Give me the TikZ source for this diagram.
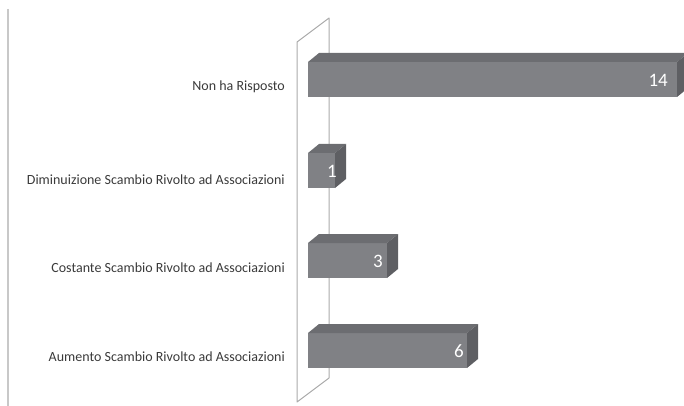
\documentclass[tikz,border=0pt]{standalone}
\usepackage{fontspec}
\setmainfont{Carlito}
\definecolor{frontc}{HTML}{808185}
\definecolor{topc}{HTML}{6C6D71}
\definecolor{sidec}{HTML}{5E5F63}
\definecolor{labc}{HTML}{3A3A3A}
\definecolor{wallc}{HTML}{ABABAB}
\definecolor{axisc}{HTML}{C8C8C8}
\tikzset{
  barfront/.style={fill=frontc, draw=none, inner sep=0pt, outer sep=0pt, anchor=north west, minimum height=35pt},
  catlabel/.style={anchor=east, inner sep=0pt, text=labc, font=\fontsize{14}{16}\selectfont},
  vallabel/.style={anchor=east, inner sep=0pt, text=white, font=\fontsize{19}{22}\selectfont},
}
\newcommand\topside[1]{%
  \fill[topc] (#1.north west) -- ++(11,-9) -- ([xshift=11pt,yshift=9pt]#1.north east) -- (#1.north east) -- cycle;
  \fill[sidec] (#1.north east) -- ++(11,-9) -- ([xshift=11pt,yshift=9pt]#1.south east) -- (#1.south east) -- cycle;
}
\begin{document}
\begin{tikzpicture}[x=1pt,y=-1pt]
\useasboundingbox (0,0) rectangle (684,406);
\clip (0,0) rectangle (684,406);
% left axis line
\coordinate (ax1) at (8,9);
\coordinate (ax2) at (8,406);
\draw[axisc, line width=1.3pt] (ax1) -- (ax2);
% wall
\coordinate (wa) at (297,42);
\coordinate (wb) at (329,18);
\coordinate (wc) at (329,378);
\coordinate (wd) at (297,402);
\draw[wallc, line width=1pt, line join=round] (wa) -- (wb) -- (wc) -- (wd) -- cycle;
% bars
\node[barfront, minimum width=369pt] (b14) at (308,62) {};
\topside{b14}
\node[barfront, minimum width=27pt] (b1) at (308,153) {};
\topside{b1}
\node[barfront, minimum width=79pt] (b3) at (308,243) {};
\topside{b3}
\node[barfront, minimum width=159pt] (b6) at (308,333) {};
\topside{b6}
% values
\node[vallabel] (v14) at (668,80) {14};
\node[vallabel] (v1) at (337,171) {1};
\node[vallabel] (v3) at (383,261) {3};
\node[vallabel] (v6) at (464,351) {6};
% category labels
\node[catlabel] (l14) at (285,87) {Non ha Risposto};
\node[catlabel] (l1) at (285,180) {Diminuizione Scambio Rivolto ad Associazioni};
\node[catlabel] (l3) at (285,268) {Costante Scambio Rivolto ad Associazioni};
\node[catlabel] (l6) at (285,357) {Aumento Scambio Rivolto ad Associazioni};
\end{tikzpicture}
\end{document}
